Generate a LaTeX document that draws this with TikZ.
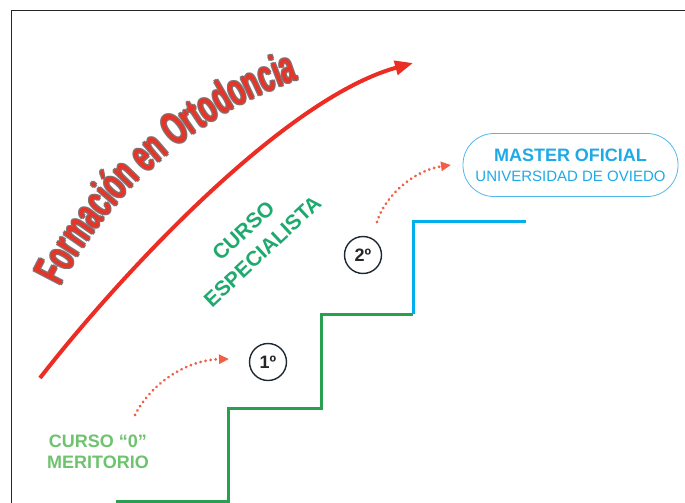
\documentclass[tikz,border=0pt]{standalone}
\usepackage{fontspec}
\setmainfont{Liberation Sans}
\newfontfamily\formfam[FakeStretch=0.59]{Liberation Sans}
\newcommand\formfont{\formfam\bfseries\fontsize{45}{48}\selectfont}
\usetikzlibrary{arrows.meta,decorations.text}
\definecolor{formred}{RGB}{232,52,40}
\definecolor{fgray}{RGB}{125,115,115}
\definecolor{arrowred}{RGB}{235,45,35}
\definecolor{dotred}{RGB}{240,95,70}
\definecolor{stepgreen}{RGB}{40,160,80}
\definecolor{specgreen}{RGB}{30,170,110}
\definecolor{merigreen}{RGB}{110,195,110}
\definecolor{mtext}{RGB}{30,170,230}
\definecolor{boxblue}{RGB}{80,185,235}
\definecolor{stepblue}{RGB}{0,175,235}
\definecolor{circdark}{RGB}{30,40,50}
\tikzset{
  frameline/.style={line width=1.3pt, black!85},
  bigarrow/.style={line width=4pt, arrowred, -{Triangle[length=18pt,width=14pt]}},
  dotarrow/.style={dotred, line width=3pt, line cap=round, dash pattern=on 0.1pt off 5pt, -{Triangle[length=10pt,width=9pt]}},
  greenstep/.style={stepgreen, line width=3pt},
  bluestep/.style={stepblue, line width=3pt},
  numcirc/.style={circle, draw=circdark, line width=1.4pt, minimum size=37pt, inner sep=0pt, font=\bfseries\fontsize{18}{20}\selectfont, text=black!85},
  spectext/.style={align=center, text=specgreen, font=\bfseries\fontsize{21}{28}\selectfont},
  meritext/.style={align=center, text=merigreen, font=\bfseries\fontsize{18}{21}\selectfont},
  masterbox/.style={draw=boxblue, line width=0.8pt, rounded corners=31pt, minimum width=215pt, minimum height=63pt, align=center, text=mtext, font=\fontsize{15}{20}\selectfont},
}
\begin{document}
\begin{tikzpicture}[x=1pt,y=-1pt]
\useasboundingbox (0,0) rectangle (685,503);
\fill[white] (0,0) rectangle (685,503);
% frame
\coordinate (fbl) at (11.5,503);
\coordinate (ftl) at (11.5,10.5);
\coordinate (ftr) at (685,10.5);
\draw[frameline] (fbl) -- (ftl) -- (ftr);
% big arrow
\coordinate (a0) at (40,378);
\coordinate (a1) at (413,63);
\draw[bigarrow] (a0) .. controls (112,285) and (280,100) .. (a1);
% curved title with outline
\foreach \dx/\dy in {1/1,-1/1,1/-1,-1/-1}{
  \path[shift={(\dx,\dy)}, decorate, decoration={text along path, text={|\formfont\color{fgray}|Formación en Ortodoncia}}]
    (61,287) .. controls (101,205) and (192,112) .. (306,78);
}
\path[decorate, decoration={text along path, text={|\formfont\color{formred}|Formación en Ortodoncia}}]
    (61,287) .. controls (101,205) and (192,112) .. (306,78);
% steps
\coordinate (s0) at (116,501);
\coordinate (s1) at (228,501);
\coordinate (s2) at (228,408);
\coordinate (s3) at (321,408);
\coordinate (s4) at (321,314);
\coordinate (s5) at (413,314);
\coordinate (s6) at (413,221);
\coordinate (s7) at (526,221);
\draw[greenstep] (s0) -- (s1) -- (s2) -- (s3) -- (s4) -- (s5);
\draw[bluestep] (s5) -- (s6) -- (s7);
% circles
\node[numcirc] (one) at (268,362) {1º};
\node[numcirc] (two) at (363,255) {2º};
% dotted arrows
\coordinate (d0) at (135,415);
\coordinate (d1) at (229,359);
\draw[dotarrow] (d0) .. controls (150,385) and (185,360) .. (d1);
\coordinate (e0) at (377,222);
\coordinate (e1) at (451,165);
\draw[dotarrow] (e0) .. controls (385,195) and (415,170) .. (e1);
% texts
\node[spectext, rotate=43] (spec) at (253,241) {CURSO\\ESPECIALISTA};
\node[meritext] (meri) at (98,452) {CURSO “0”\\MERITORIO};
\node[masterbox] (master) at (570.5,165) {{\bfseries\fontsize{18}{20}\selectfont MASTER OFICIAL}\\UNIVERSIDAD DE OVIEDO};
\end{tikzpicture}
\end{document}
